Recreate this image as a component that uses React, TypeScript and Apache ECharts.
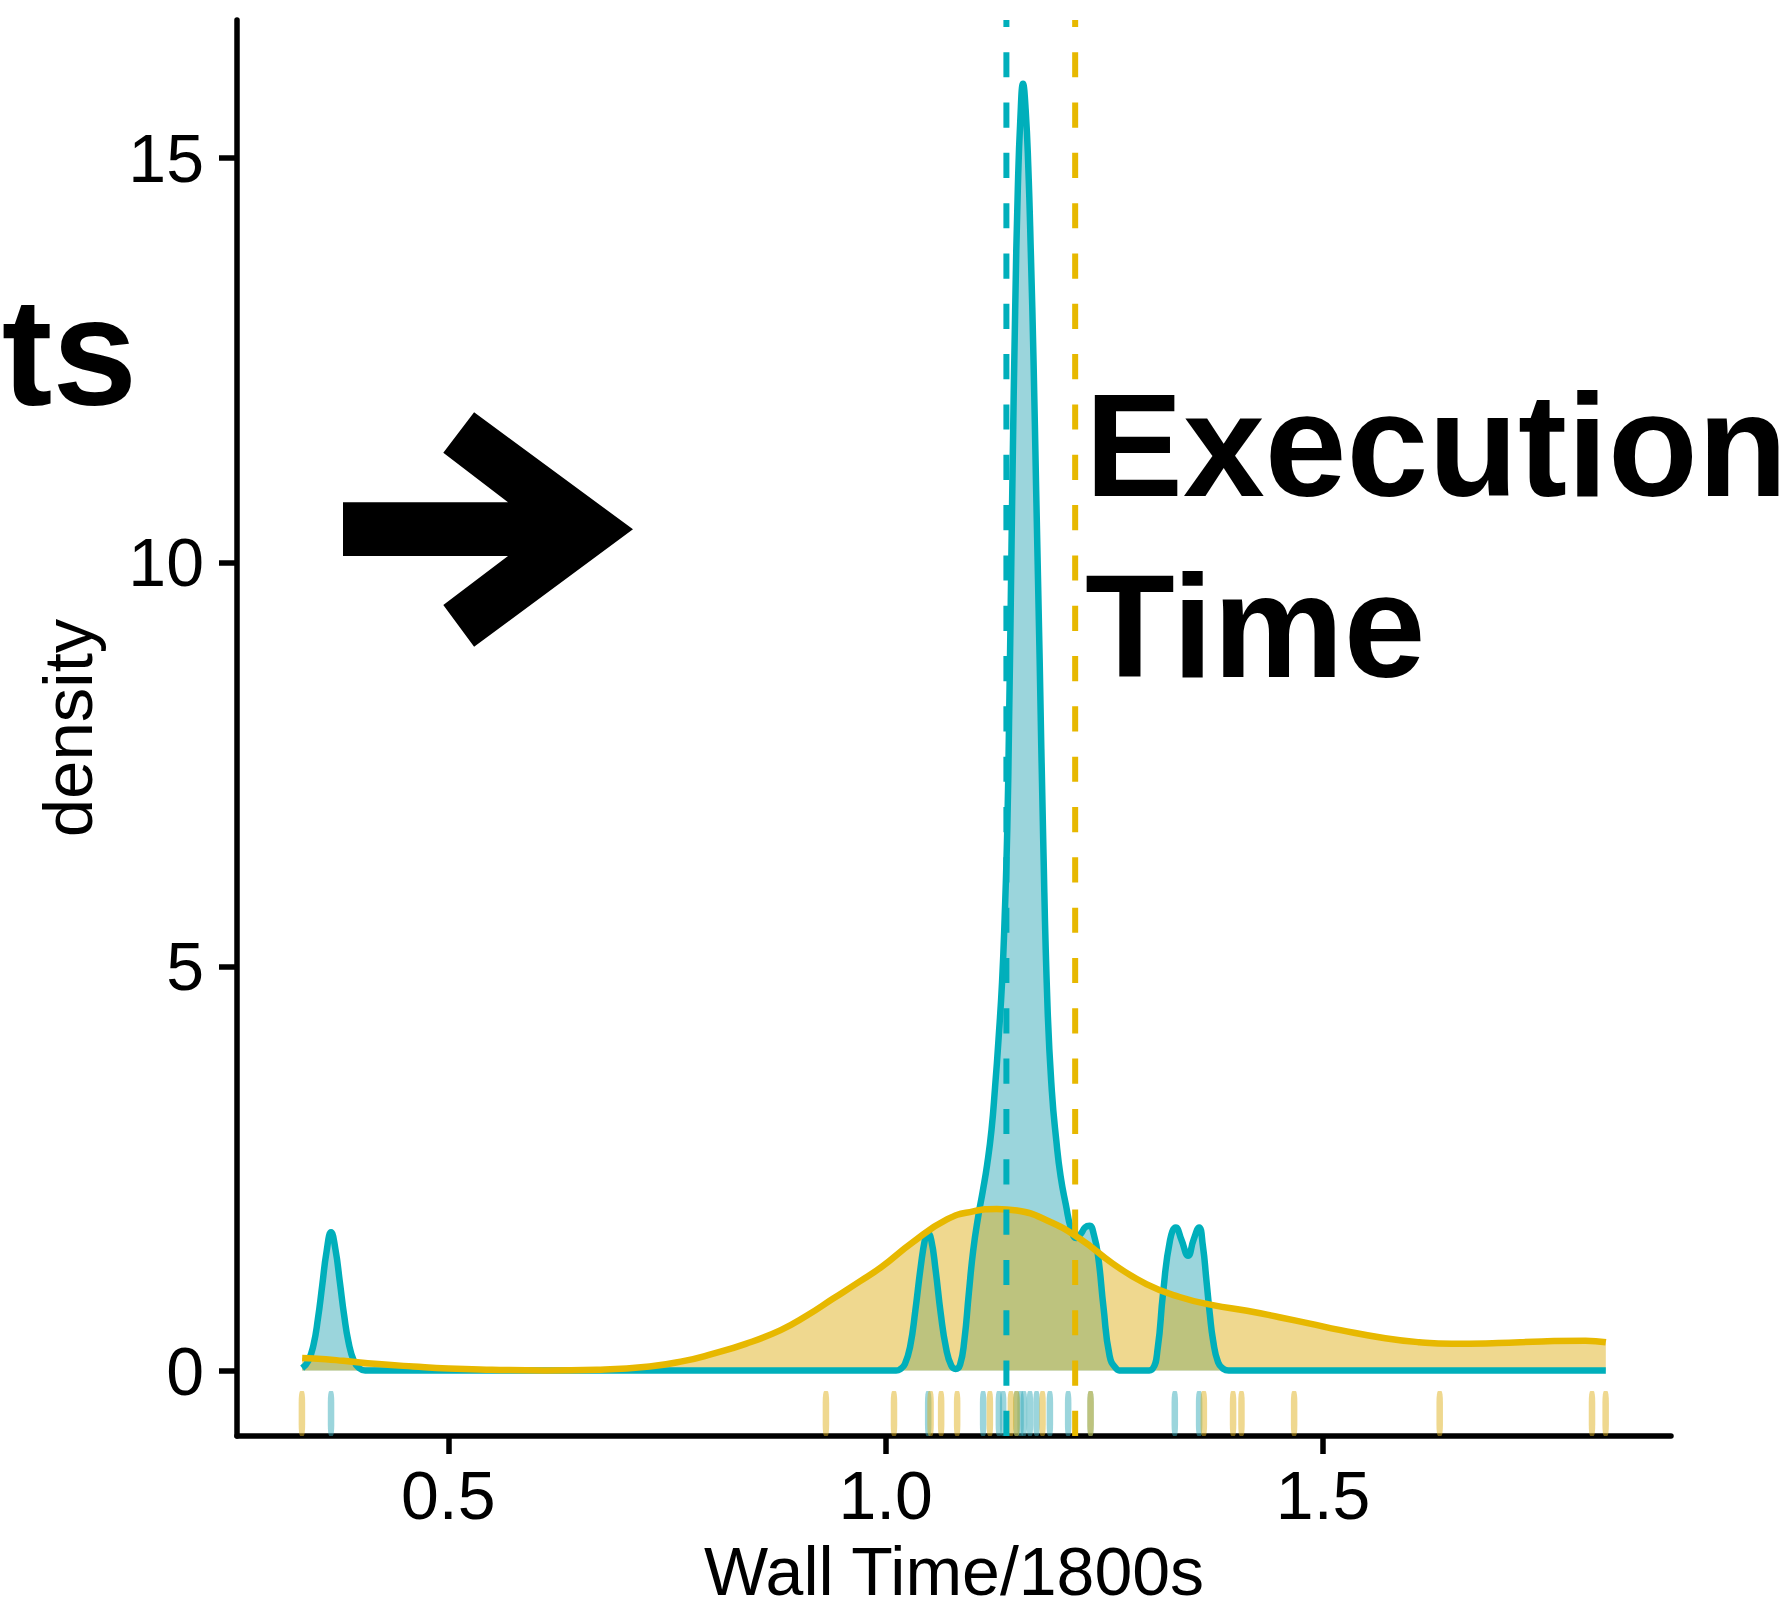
import React, { useEffect, useRef } from "react";
import * as echarts from "echarts";

// ---- data ----
const tealDensity: [number, number][] = [
  [0.333, 0.03], [0.34, 0.12], [0.346, 0.32], [0.351, 0.64], [0.356, 1.06], [0.361, 1.48],
  [0.366, 1.71], [0.371, 1.5], [0.376, 1.1], [0.381, 0.68], [0.386, 0.35], [0.392, 0.12],
  [0.398, 0.03], [0.405, 0.0], [0.412, 0.0], [0.6, 0.0], [0.8, 0.0], [1.005, 0.0], [1.012, 0.0],
  [1.017, 0.02], [1.022, 0.08], [1.028, 0.3], [1.034, 0.75], [1.04, 1.28], [1.045, 1.63],
  [1.048, 1.71], [1.052, 1.62], [1.057, 1.25], [1.063, 0.7], [1.069, 0.28], [1.075, 0.06],
  [1.08, 0.02], [1.085, 0.07], [1.09, 0.38], [1.095, 0.95], [1.1, 1.48], [1.106, 1.92],
  [1.111, 2.22], [1.116, 2.55], [1.121, 2.98], [1.125, 3.5], [1.129, 4.1], [1.133, 4.8],
  [1.136, 5.6], [1.139, 6.7], [1.141, 8.0], [1.143, 9.5], [1.145, 11.1], [1.148, 13.1],
  [1.151, 14.6], [1.154, 15.5], [1.157, 15.92], [1.16, 15.6], [1.163, 14.9], [1.166, 13.8],
  [1.169, 12.5], [1.172, 10.9], [1.176, 8.8], [1.18, 6.6], [1.185, 4.5], [1.19, 3.45],
  [1.195, 2.85], [1.2, 2.4], [1.206, 2.05], [1.212, 1.75], [1.218, 1.64], [1.223, 1.69],
  [1.228, 1.77], [1.233, 1.79], [1.238, 1.68], [1.243, 1.4], [1.249, 0.78], [1.256, 0.18],
  [1.263, 0.03], [1.27, 0.0], [1.28, 0.0], [1.298, 0.0], [1.305, 0.02], [1.311, 0.28],
  [1.317, 0.95], [1.325, 1.61], [1.3317, 1.77], [1.338, 1.62], [1.3457, 1.42], [1.352, 1.62],
  [1.3583, 1.77], [1.3625, 1.55], [1.3667, 1.11], [1.3705, 0.7], [1.3743, 0.37], [1.38, 0.1],
  [1.386, 0.02], [1.392, 0.0], [1.4, 0.0], [1.6, 0.0], [1.8232, 0.0],
];

const goldDensity: [number, number][] = [
  [0.333, 0.155], [0.36, 0.14], [0.38, 0.12], [0.42, 0.08], [0.46, 0.05], [0.5, 0.025],
  [0.55, 0.01], [0.61, 0.0], [0.67, 0.01], [0.73, 0.05], [0.77, 0.12], [0.8, 0.2],
  [0.84, 0.33], [0.88, 0.5], [0.91, 0.68], [0.94, 0.89], [0.97, 1.1], [0.995, 1.28],
  [1.03, 1.58], [1.07, 1.87], [1.1, 1.97], [1.127, 2.0], [1.15, 1.98], [1.184, 1.86],
  [1.222, 1.63], [1.26, 1.32], [1.298, 1.07], [1.336, 0.91], [1.374, 0.81], [1.413, 0.74],
  [1.45, 0.66], [1.485, 0.58], [1.52, 0.5], [1.571, 0.4], [1.61, 0.35], [1.647, 0.33],
  [1.7, 0.34], [1.75, 0.36], [1.8, 0.37], [1.8232, 0.35],
];

const tealRug: number[] = [
  0.366, 1.0486, 1.1114, 1.1294, 1.1343, 1.1496, 1.1542, 1.158, 1.1649, 1.1725,
  1.1877, 1.2086, 1.2342, 1.3305, 1.3583,
];

const goldRug: number[] = [
  0.3327, 0.9317, 1.0095, 1.0513, 1.0634, 1.0817, 1.1191, 1.1431, 1.1496, 1.1793,
  1.2342, 1.3637, 1.3971, 1.4067, 1.4669, 1.6333, 1.8074, 1.823,
];

const tealMean = 1.138;
const goldMean = 1.2166;

const xTicks: number[] = [0.5, 1.0, 1.5];
const xTickLabels: string[] = ["0.5", "1.0", "1.5"];
const yTicks: number[] = [0, 5, 10, 15];
const yTickLabels: string[] = ["0", "5", "10", "15"];

const xTitle = "Wall Time/1800s";
const yTitle = "density";

const X_MIN = 0.2585;
const X_MAX = 1.8977;
const Y_MIN = -0.81;
const Y_MAX = 16.71;

const TEAL = "#00AFBB";
const GOLD = "#E7B800";
const TEAL_FILL = "rgba(55,171,185,0.5)";
const GOLD_FILL = "rgba(223,177,31,0.5)";
const FONT = "'Liberation Sans', Arial, Helvetica, sans-serif";

function labelFor(ticks: number[], labels: string[]) {
  return (v: number) => {
    const i = ticks.findIndex((t) => Math.abs(t - v) < 1e-9);
    return i >= 0 ? labels[i] : "";
  };
}

export default function App() {
  const ref = useRef<HTMLDivElement>(null);

  useEffect(() => {
    if (!ref.current) return;
    const chart = echarts.init(ref.current, null, { renderer: "svg" });

    const rugY = Y_MIN + (Y_MAX - Y_MIN) * 0.0159;
    const bigFont = { fontSize: 147, fontWeight: "bold", fontFamily: FONT, fill: "#000" };

    const option: any = {
      animation: false,
      backgroundColor: "#ffffff",
      grid: {
        left: 237,
        top: 20,
        width: 1434,
        height: 1416,
        containLabel: false,
        outerBoundsMode: "none",
      },
      xAxis: {
        type: "value",
        min: X_MIN,
        max: X_MAX,
        name: xTitle,
        nameLocation: "middle",
        nameGap: 107,
        nameTextStyle: { fontSize: 68, lineHeight: 56, color: "#000", fontFamily: FONT },
        axisLine: { show: true, onZero: false, lineStyle: { color: "#000", width: 5.5 } },
        axisTick: { show: true, length: 18, customValues: xTicks, lineStyle: { color: "#000", width: 5.5 } },
        axisLabel: {
          show: true,
          customValues: xTicks,
          margin: 25,
          fontSize: 68,
          color: "#000",
          fontFamily: FONT,
          formatter: labelFor(xTicks, xTickLabels),
        },
        splitLine: { show: false },
      },
      yAxis: {
        type: "value",
        min: Y_MIN,
        max: Y_MAX,
        name: yTitle,
        nameLocation: "middle",
        nameRotate: 90,
        nameGap: 134,
        nameTextStyle: { fontSize: 69, color: "#000", fontFamily: FONT },
        axisLine: { show: true, onZero: false, lineStyle: { color: "#000", width: 5.5 } },
        axisTick: { show: true, length: 18, customValues: yTicks, lineStyle: { color: "#000", width: 5.5 } },
        axisLabel: {
          show: true,
          customValues: yTicks,
          margin: 33,
          fontSize: 68,
          color: "#000",
          fontFamily: FONT,
          formatter: labelFor(yTicks, yTickLabels),
        },
        splitLine: { show: false },
      },
      series: [
        {
          type: "line",
          name: "teal",
          data: tealDensity,
          showSymbol: false,
          symbol: "none",
          smooth: 0.5,
          silent: true,
          lineStyle: { color: TEAL, width: 6.5, join: "round" },
          areaStyle: { color: TEAL_FILL, opacity: 1, origin: 0 },
          z: 2,
        },
        {
          type: "line",
          name: "gold",
          data: goldDensity,
          showSymbol: false,
          symbol: "none",
          smooth: 0.5,
          silent: true,
          lineStyle: { color: GOLD, width: 6.5, join: "round" },
          areaStyle: { color: GOLD_FILL, opacity: 1, origin: 0 },
          z: 2,
        },
        {
          type: "scatter",
          name: "tealRug",
          data: tealRug.map((x) => [x, rugY]),
          symbol: "roundRect",
          symbolSize: [6.5, 45],
          silent: true,
          itemStyle: { color: TEAL_FILL, opacity: 1 },
          z: 3,
        },
        {
          type: "scatter",
          name: "goldRug",
          data: goldRug.map((x) => [x, rugY]),
          symbol: "roundRect",
          symbolSize: [6.5, 45],
          silent: true,
          itemStyle: { color: GOLD_FILL, opacity: 1 },
          z: 3,
        },
        {
          type: "line",
          name: "tealMean",
          data: [[tealMean, Y_MIN], [tealMean, Y_MAX]],
          showSymbol: false,
          symbol: "none",
          silent: true,
          lineStyle: { color: TEAL, width: 6, type: [25.16, 25.16], cap: "butt" },
          z: 4,
        },
        {
          type: "line",
          name: "goldMean",
          data: [[goldMean, Y_MIN], [goldMean, Y_MAX]],
          showSymbol: false,
          symbol: "none",
          silent: true,
          lineStyle: { color: GOLD, width: 6, type: [25.16, 25.16], cap: "butt" },
          z: 4,
        },
      ],
      graphic: [
        {
          type: "polygon",
          silent: true,
          z: 100,
          shape: {
            points: [
              [343, 502.3], [508, 502.3], [443.3, 452.7], [474.1, 412.3], [633, 529.3],
              [474.1, 646.7], [443.3, 605], [508, 556], [343, 556],
            ],
          },
          style: { fill: "#000" },
        },
        {
          type: "text",
          silent: true,
          z: 100,
          x: 137,
          y: 352.3,
          style: { ...bigFont, fontSize: 152, text: "ts", align: "right", verticalAlign: "middle" },
        },
        {
          type: "text",
          silent: true,
          z: 100,
          x: 1085,
          y: 444.8,
          style: { ...bigFont, text: "Execution", align: "left", verticalAlign: "middle" },
        },
        {
          type: "text",
          silent: true,
          z: 100,
          x: 1085,
          y: 625.8,
          style: { ...bigFont, text: "Time", align: "left", verticalAlign: "middle" },
        },
      ],
    };

    chart.setOption(option);
    return () => chart.dispose();
  }, []);

  return (
    <div
      ref={ref}
      style={{ position: "fixed", left: 0, top: 0, width: 1792, height: 1610, background: "#fff" }}
    />
  );
}
